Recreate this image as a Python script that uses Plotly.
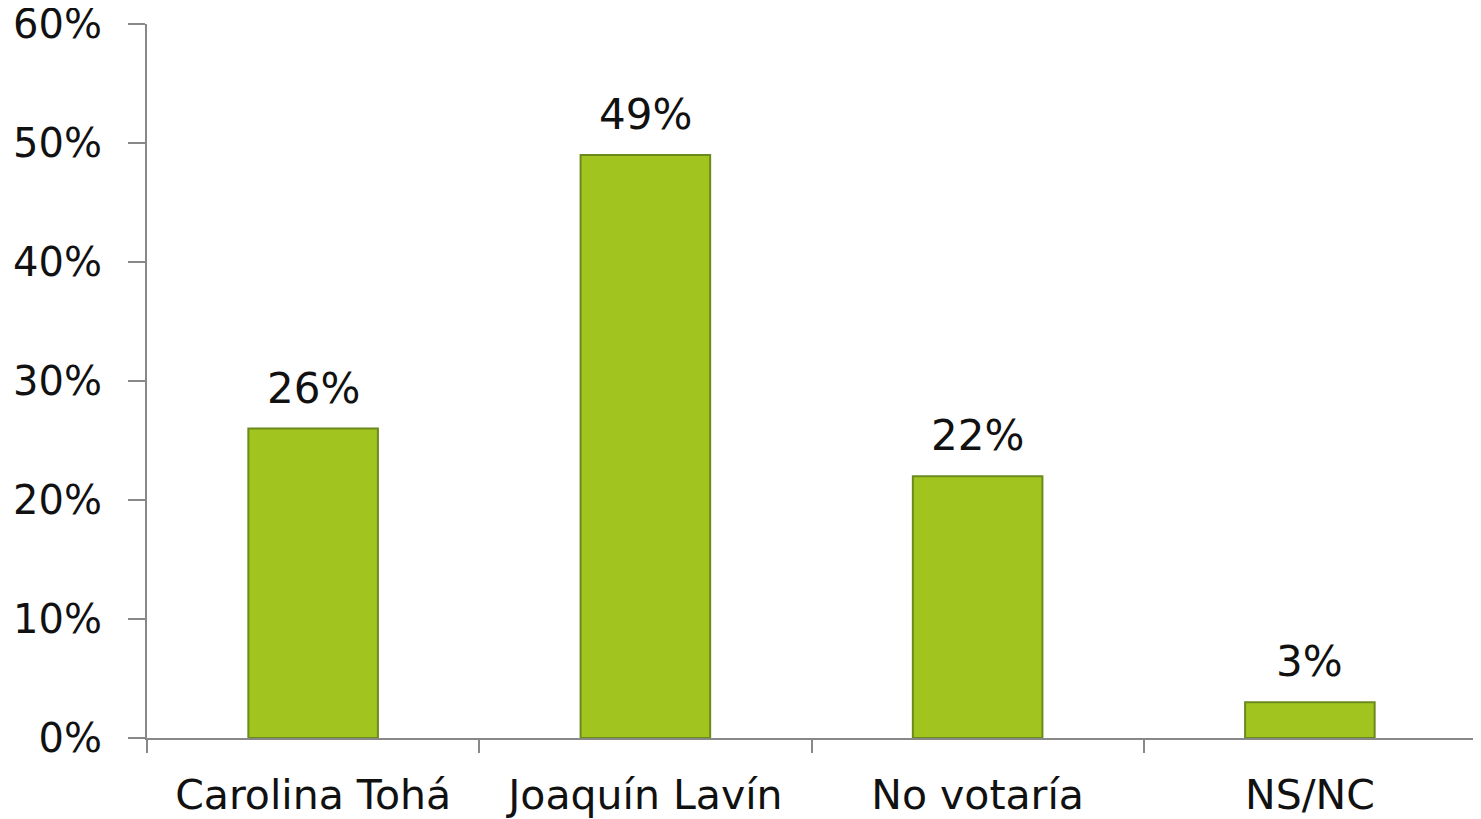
import plotly.graph_objects as go

categories = ["Carolina Tohá", "Joaquín Lavín", "No votaría", "NS/NC"]
values = [26, 49, 22, 3]
value_labels = ["26%", "49%", "22%", "3%"]
y_ticks = [0, 10, 20, 30, 40, 50, 60]
y_tick_labels = ["0%", "10%", "20%", "30%", "40%", "50%", "60%"]

FONT = "DejaVu Sans"

fig = go.Figure(go.Bar(
    x=categories,
    y=values,
    marker=dict(color="#A2C41F", line=dict(color="#6B8A1C", width=2)),
    width=0.39,
))

# value labels sit a bit higher above the bars than plotly's own outside text
for cat, val, lab in zip(categories, values, value_labels):
    fig.add_annotation(x=cat, y=val, text=lab, showarrow=False,
                       yanchor="bottom", yshift=14,
                       font=dict(size=42, color="#111111", family=FONT))

# page body adds an 8px margin, so the figure is a little smaller than the window
fig.update_layout(
    width=1473, height=811,
    margin=dict(l=139, r=5, t=16, b=81),
    plot_bgcolor="white", paper_bgcolor="white",
    showlegend=False,
    font=dict(family=FONT, color="#111111"),
)

fig.update_xaxes(
    tickson="boundaries", ticks="outside", ticklen=13, tickcolor="#888888", tickwidth=2,
    showline=True, linecolor="#888888", linewidth=2,
    tickfont=dict(size=41, family=FONT),
    ticklabelstandoff=20,
    showgrid=False, automargin=False,
)
fig.update_yaxes(
    range=[0, 60], tickvals=y_ticks, ticktext=y_tick_labels,
    ticks="outside", ticklen=17, tickcolor="#888888", tickwidth=2,
    showline=True, linecolor="#888888", linewidth=2,
    tickfont=dict(size=40, family=FONT),
    ticklabelstandoff=18,
    showgrid=False, zeroline=False, automargin=False,
    ticklabeloverflow="allow",
)

fig.write_html("out.html")
